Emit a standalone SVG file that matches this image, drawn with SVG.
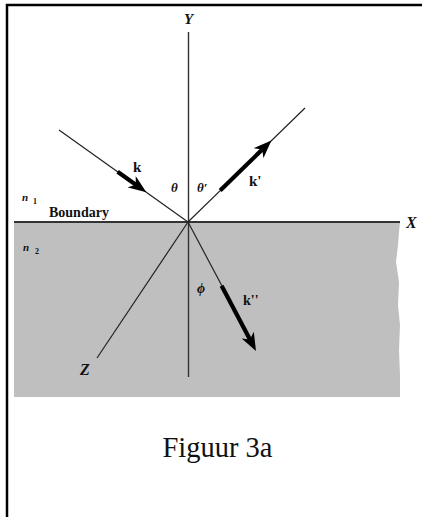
<svg xmlns="http://www.w3.org/2000/svg" width="422" height="517" viewBox="0 0 422 517">
  <style>
    .frame { stroke: #000; stroke-width: 2.5; fill: none; }
    .axis { stroke: #333; stroke-width: 1.4; fill: none; }
    .ray { stroke: #222; stroke-width: 1.2; fill: none; }
    .thick { stroke: #000; stroke-width: 4.2; fill: none; marker-end: url(#head); }
    .lbl { font-family: "Liberation Serif", "Times New Roman", serif; fill: #111; }
    .b { font-weight: bold; }
    .i { font-style: italic; }
  </style>
  <defs>
    <marker id="head" markerUnits="userSpaceOnUse" markerWidth="19" markerHeight="14" viewBox="0 0 19 14" refX="9" refY="7" orient="auto">
      <path d="M0,0 L18,7 L0,14 L5,7 z" fill="#000"/>
    </marker>
  </defs>
  <rect width="422" height="517" fill="#fff"/>
  <g id="frame">
    <path class="frame" d="M7,517 L7,5 L422,5"/>
  </g>
  <g id="medium2">
    <path d="M14,222 L400,222 L399,232 L398,245 L396,262 L399,282 L398,305 L400,325 L399,350 L400,375 L400,397 L14,397 z" fill="#bfbfbf"/>
  </g>
  <g id="connectors">
    <line id="x-axis" x1="14" y1="222" x2="400" y2="222" stroke="#333" stroke-width="2"/>
    <line id="y-axis" class="axis" x1="188.5" y1="32" x2="188.5" y2="377"/>
    <line id="z-axis" class="ray" x1="188" y1="222" x2="97" y2="358"/>
    <line id="incident" class="ray" x1="59" y1="130" x2="188" y2="222"/>
    <line id="reflected" class="ray" x1="188" y1="222" x2="305" y2="108"/>
    <line id="transmitted" class="ray" x1="188" y1="222" x2="222" y2="286"/>
    <line id="k-arrow" class="thick" x1="117.6" y1="171.8" x2="139" y2="187"/>
    <line id="k1-arrow" class="thick" x1="220.2" y1="190.6" x2="265" y2="146.8"/>
    <line id="k2-arrow" class="thick" x1="221.6" y1="285.7" x2="251.8" y2="343"/>
  </g>
  <g id="labels">
    <text class="lbl b i" x="184" y="24" font-size="15">Y</text>
    <text class="lbl b i" x="406" y="228" font-size="16">X</text>
    <text class="lbl b i" x="80" y="375" font-size="16">Z</text>
    <text class="lbl b" x="133" y="172" font-size="15">k</text>
    <text class="lbl b i" x="171" y="192" font-size="13">θ</text>
    <text class="lbl b i" x="197" y="192" font-size="13">θ′</text>
    <text class="lbl b" x="249" y="186" font-size="15">k'</text>
    <text class="lbl b i" x="22" y="201" font-size="11">n</text>
    <text class="lbl b" x="33" y="204" font-size="8">1</text>
    <text class="lbl b" x="49" y="216.5" font-size="14">Boundary</text>
    <text class="lbl b i" x="23" y="251" font-size="11">n</text>
    <text class="lbl b" x="35" y="254" font-size="8">2</text>
    <text class="lbl b i" x="197" y="293" font-size="14">ϕ</text>
    <text class="lbl b" x="243" y="305" font-size="14">k''</text>
  </g>
  <g id="caption">
    <text class="lbl" x="217.5" y="456.5" font-size="28.5" text-anchor="middle">Figuur 3a</text>
  </g>
</svg>
